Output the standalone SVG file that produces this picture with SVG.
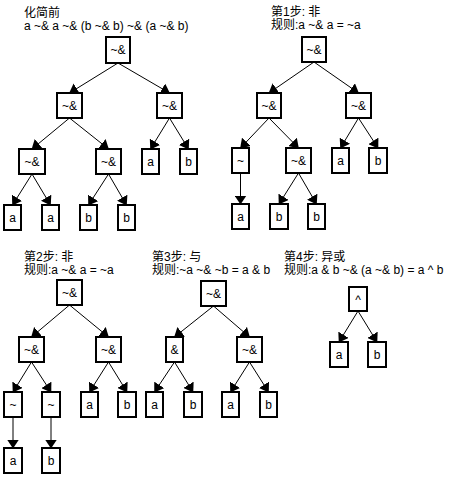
<svg xmlns="http://www.w3.org/2000/svg" width="451" height="480" viewBox="0 0 451 480">
<style>
text{font-family:"Liberation Sans","Noto Sans CJK SC",sans-serif;font-size:12px;fill:#000}
.n rect{fill:#fff;stroke:#000;stroke-width:2}
.n text{text-anchor:middle}
.e line{stroke:#000;stroke-width:1;marker-end:url(#ah)}
</style>
<defs>
<marker id="ah" markerUnits="userSpaceOnUse" markerWidth="9" markerHeight="12" refX="8.5" refY="6" orient="auto" viewBox="0 0 9 12"><path d="M0,0 L9,6 L0,12 z" fill="#000"/></marker>
</defs>
<rect width="451" height="480" fill="#fff"/>
<g id="titles">
<text x="24" y="17">化简前</text>
<text x="24" y="30">a ~&amp; a ~&amp; (b ~&amp; b) ~&amp; (a ~&amp; b)</text>
<text x="271" y="16">第1步: 非</text>
<text x="271" y="29">规则:a ~&amp; a = ~a</text>
<text x="24" y="261">第2步: 非</text>
<text x="24" y="274">规则:a ~&amp; a = ~a</text>
<text x="152" y="261">第3步: 与</text>
<text x="152" y="274">规则:~a ~&amp; ~b = a &amp; b</text>
<text x="284" y="261">第4步: 异或</text>
<text x="284" y="274">规则:a &amp; b ~&amp; (a ~&amp; b) = a ^ b</text>
</g>
<g id="edges" class="e">
<!-- tree 1 -->
<line x1="118" y1="63" x2="69.5" y2="93"/>
<line x1="118" y1="63" x2="169.5" y2="93"/>
<line x1="69.5" y1="118" x2="32" y2="149"/>
<line x1="69.5" y1="118" x2="108.5" y2="149"/>
<line x1="169.5" y1="118" x2="150.5" y2="149"/>
<line x1="169.5" y1="118" x2="188.5" y2="149"/>
<line x1="32" y1="174" x2="12.5" y2="205"/>
<line x1="32" y1="174" x2="50.5" y2="205"/>
<line x1="108.5" y1="174" x2="88.5" y2="205"/>
<line x1="108.5" y1="174" x2="126.5" y2="205"/>
<!-- tree 2 -->
<line x1="314" y1="62" x2="269" y2="93"/>
<line x1="314" y1="62" x2="358.5" y2="93"/>
<line x1="269" y1="118" x2="240.5" y2="148"/>
<line x1="269" y1="118" x2="298.5" y2="148"/>
<line x1="358.5" y1="118" x2="340.5" y2="148"/>
<line x1="358.5" y1="118" x2="378" y2="148"/>
<line x1="240.5" y1="173" x2="240.5" y2="204"/>
<line x1="298.5" y1="173" x2="279" y2="204"/>
<line x1="298.5" y1="173" x2="316.5" y2="204"/>
<!-- tree 3 -->
<line x1="69.5" y1="305" x2="31.5" y2="337"/>
<line x1="69.5" y1="305" x2="108.5" y2="337"/>
<line x1="31.5" y1="362" x2="13" y2="392"/>
<line x1="31.5" y1="362" x2="51" y2="392"/>
<line x1="108.5" y1="362" x2="89.5" y2="392"/>
<line x1="108.5" y1="362" x2="127" y2="392"/>
<line x1="13" y1="417" x2="13" y2="448"/>
<line x1="51" y1="417" x2="51" y2="448"/>
<!-- tree 4 -->
<line x1="213.5" y1="306" x2="174.5" y2="337"/>
<line x1="213.5" y1="306" x2="249.5" y2="337"/>
<line x1="174.5" y1="362" x2="154.5" y2="392"/>
<line x1="174.5" y1="362" x2="193" y2="392"/>
<line x1="249.5" y1="362" x2="230.5" y2="392"/>
<line x1="249.5" y1="362" x2="268.5" y2="392"/>
<!-- tree 5 -->
<line x1="358" y1="311" x2="339" y2="342"/>
<line x1="358" y1="311" x2="377" y2="342"/>
</g>
<!-- tree 1 nodes -->
<g id="t1-root" class="n"><rect x="106" y="37" width="24" height="26"/><text x="118" y="54">~&amp;</text></g>
<g id="t1-l" class="n"><rect x="57" y="93" width="25" height="25"/><text x="69.5" y="110">~&amp;</text></g>
<g id="t1-r" class="n"><rect x="157" y="93" width="25" height="25"/><text x="169.5" y="110">~&amp;</text></g>
<g id="t1-ll" class="n"><rect x="19" y="149" width="26" height="25"/><text x="32" y="166">~&amp;</text></g>
<g id="t1-lr" class="n"><rect x="96" y="149" width="25" height="25"/><text x="108.5" y="166">~&amp;</text></g>
<g id="t1-ra" class="n"><rect x="142" y="149" width="17" height="25"/><text x="150.5" y="166">a</text></g>
<g id="t1-rb" class="n"><rect x="180" y="149" width="17" height="25"/><text x="188.5" y="166">b</text></g>
<g id="t1-lla" class="n"><rect x="4" y="205" width="17" height="25"/><text x="12.5" y="222">a</text></g>
<g id="t1-lla2" class="n"><rect x="42" y="205" width="17" height="25"/><text x="50.5" y="222">a</text></g>
<g id="t1-lrb" class="n"><rect x="80" y="205" width="17" height="25"/><text x="88.5" y="222">b</text></g>
<g id="t1-lrb2" class="n"><rect x="118" y="205" width="17" height="25"/><text x="126.5" y="222">b</text></g>
<!-- tree 2 nodes -->
<g id="t2-root" class="n"><rect x="302" y="37" width="24" height="25"/><text x="314" y="54">~&amp;</text></g>
<g id="t2-l" class="n"><rect x="257" y="93" width="24" height="25"/><text x="269" y="110">~&amp;</text></g>
<g id="t2-r" class="n"><rect x="346" y="93" width="25" height="25"/><text x="358.5" y="110">~&amp;</text></g>
<g id="t2-ll" class="n"><rect x="232" y="148" width="17" height="25"/><text x="240.5" y="165">~</text></g>
<g id="t2-lr" class="n"><rect x="286" y="148" width="25" height="25"/><text x="298.5" y="165">~&amp;</text></g>
<g id="t2-ra" class="n"><rect x="332" y="148" width="17" height="25"/><text x="340.5" y="165">a</text></g>
<g id="t2-rb" class="n"><rect x="369" y="148" width="18" height="25"/><text x="378" y="165">b</text></g>
<g id="t2-lla" class="n"><rect x="232" y="204" width="17" height="25"/><text x="240.5" y="221">a</text></g>
<g id="t2-lrb" class="n"><rect x="270" y="204" width="18" height="25"/><text x="279" y="221">b</text></g>
<g id="t2-lrb2" class="n"><rect x="308" y="204" width="17" height="25"/><text x="316.5" y="221">b</text></g>
<!-- tree 3 nodes -->
<g id="t3-root" class="n"><rect x="57" y="280" width="25" height="25"/><text x="69.5" y="297">~&amp;</text></g>
<g id="t3-l" class="n"><rect x="19" y="337" width="25" height="25"/><text x="31.5" y="354">~&amp;</text></g>
<g id="t3-r" class="n"><rect x="96" y="337" width="25" height="25"/><text x="108.5" y="354">~&amp;</text></g>
<g id="t3-ll" class="n"><rect x="4" y="392" width="18" height="25"/><text x="13" y="409">~</text></g>
<g id="t3-lr" class="n"><rect x="42" y="392" width="18" height="25"/><text x="51" y="409">~</text></g>
<g id="t3-ra" class="n"><rect x="81" y="392" width="17" height="25"/><text x="89.5" y="409">a</text></g>
<g id="t3-rb" class="n"><rect x="118" y="392" width="18" height="25"/><text x="127" y="409">b</text></g>
<g id="t3-lla" class="n"><rect x="4" y="448" width="18" height="25"/><text x="13" y="465">a</text></g>
<g id="t3-lrb" class="n"><rect x="42" y="448" width="18" height="25"/><text x="51" y="465">b</text></g>
<!-- tree 4 nodes -->
<g id="t4-root" class="n"><rect x="201" y="281" width="25" height="25"/><text x="213.5" y="298">~&amp;</text></g>
<g id="t4-l" class="n"><rect x="166" y="337" width="17" height="25"/><text x="174.5" y="354">&amp;</text></g>
<g id="t4-r" class="n"><rect x="237" y="337" width="25" height="25"/><text x="249.5" y="354">~&amp;</text></g>
<g id="t4-la" class="n"><rect x="146" y="392" width="17" height="25"/><text x="154.5" y="409">a</text></g>
<g id="t4-lb" class="n"><rect x="184" y="392" width="18" height="25"/><text x="193" y="409">b</text></g>
<g id="t4-ra" class="n"><rect x="222" y="392" width="17" height="25"/><text x="230.5" y="409">a</text></g>
<g id="t4-rb" class="n"><rect x="260" y="392" width="17" height="25"/><text x="268.5" y="409">b</text></g>
<!-- tree 5 nodes -->
<g id="t5-root" class="n"><rect x="349" y="287" width="18" height="24"/><text x="358" y="304">^</text></g>
<g id="t5-a" class="n"><rect x="330" y="342" width="18" height="25"/><text x="339" y="359">a</text></g>
<g id="t5-b" class="n"><rect x="368" y="342" width="18" height="25"/><text x="377" y="359">b</text></g>
</svg>
